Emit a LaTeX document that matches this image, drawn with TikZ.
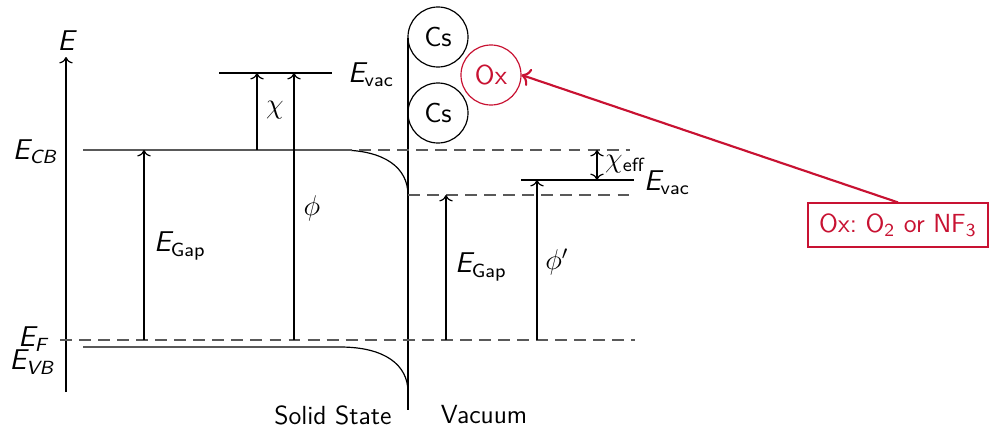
\documentclass[tikz,border=0pt]{standalone}
\usepackage{amsmath}
\usetikzlibrary{arrows.meta}
\definecolor{oxred}{RGB}{200,18,50}
\newcommand{\myE}{\text{\sffamily\slshape E}}
\newcommand{\upsub}[1]{_{\text{\sffamily\upshape #1}}}
\newcommand{\itsub}[1]{_{\text{\sffamily\slshape #1}}}
\begin{document}
\begin{tikzpicture}[x=0.42pt,y=-0.42pt,
  lvl/.style={line width=0.5pt},
  dsh/.style={line width=0.5pt,dashed,dash pattern=on 5pt off 3pt,gray!70!black},
  arr/.style={line width=0.5pt,-To},
  lbl/.style={inner sep=1pt},
  bigl/.style={inner sep=1pt,font=\sffamily\fontsize{12}{14}\selectfont},
  atom/.style={circle,draw,line width=0.5pt,minimum size=60*0.42pt,inner sep=0pt,font=\sffamily\fontsize{11.5}{13}\selectfont},
  every node/.style={font=\sffamily\fontsize{11}{13}\selectfont}]
\useasboundingbox (0,0) rectangle (989,427);
% axis
\coordinate (ax0) at (66,392);
\coordinate (ax1) at (66,57);
\draw[arr] (ax0) -- (ax1);
\node[bigl] (E) at (66,41) {$\myE$};
\node[bigl] (ecb) at (35,152) {$\myE\itsub{CB}$};
\node[bigl] (ef) at (33,339) {$\myE\itsub{F}$};
\node[bigl] (evb) at (32,362) {$\myE\itsub{VB}$};
% coordinates
\coordinate (cb0) at (83,150);
\coordinate (cb1) at (340,150);
\coordinate (cb2) at (408,195);
\coordinate (vb0) at (83,347);
\coordinate (vb1) at (340,347);
\coordinate (vb2) at (408,392);
\draw[lvl] (cb0) -- (cb1) .. controls (385,150) and (408,168) .. (cb2);
\draw[lvl] (vb0) -- (vb1) .. controls (385,347) and (408,365) .. (vb2);
% surface
\coordinate (s0) at (408,38);
\coordinate (s1) at (408,410);
\draw[lvl] (s0) -- (s1);
% dashed
\coordinate (d1a) at (340,150); \coordinate (d1b) at (630,150);
\coordinate (d2a) at (408,195); \coordinate (d2b) at (635,195);
\coordinate (d3a) at (60,340); \coordinate (d3b) at (635,340);
\draw[dsh] (d1a) -- (d1b);
\draw[dsh] (d2a) -- (d2b);
\draw[dsh] (d3a) -- (d3b);
% vacuum level left
\coordinate (v0) at (219,73); \coordinate (v1) at (332,73);
\draw[lvl] (v0) -- (v1);
\node[bigl] (evac1) at (371,75) {$\myE\upsub{vac}$};
\coordinate (chi0) at (257,150); \coordinate (chi1) at (257,73);
\draw[arr] (chi0) -- (chi1);
\node[bigl] (chi) at (275,110) {$\chi$};
\coordinate (phi0) at (294,340); \coordinate (phi1) at (294,73);
\draw[arr] (phi0) -- (phi1);
\node[bigl] (phi) at (312,208) {$\phi$};
\coordinate (g0) at (144,340); \coordinate (g1) at (144,150);
\draw[arr] (g0) -- (g1);
\node[bigl] (eg1) at (180,246) {$\myE\upsub{Gap}$};
% right side
\coordinate (g2) at (446,340); \coordinate (g3) at (446,195);
\draw[arr] (g2) -- (g3);
\node[bigl] (eg2) at (481,267) {$\myE\upsub{Gap}$};
\coordinate (v2) at (521,180); \coordinate (v3) at (634,180);
\draw[lvl] (v2) -- (v3);
\node[bigl] (evac2) at (667,183) {$\myE\upsub{vac}$};
\coordinate (p0) at (537,340); \coordinate (p1) at (537,180);
\draw[arr] (p0) -- (p1);
\node[bigl] (phip) at (557,262) {$\phi'$};
\coordinate (x0) at (597,150); \coordinate (x1) at (597,180);
\draw[line width=0.5pt,To-To] (x0) -- (x1);
\node[bigl] (chieff) at (625,164) {$\chi\upsub{eff}$};
% atoms
\node[atom] (cs1) at (438,37) {Cs};
\node[atom] (cs2) at (438,113) {Cs};
\node[atom,draw=oxred,text=oxred] (ox) at (491,75) {Ox};
% annotation
\node[draw=oxred,text=oxred,line width=0.5pt,minimum width=180*0.42pt,minimum height=44*0.42pt,inner sep=2pt] (box) at (898,225) {Ox:\ O$\upsub{2}$ or NF$\upsub{3}$};
\draw[oxred,line width=0.9pt,-To] (box.north) -- (ox.east);
\node[lbl] (solid) at (333,415) {Solid State};
\node[lbl] (vac) at (484,415) {Vacuum};
\end{tikzpicture}
\end{document}
